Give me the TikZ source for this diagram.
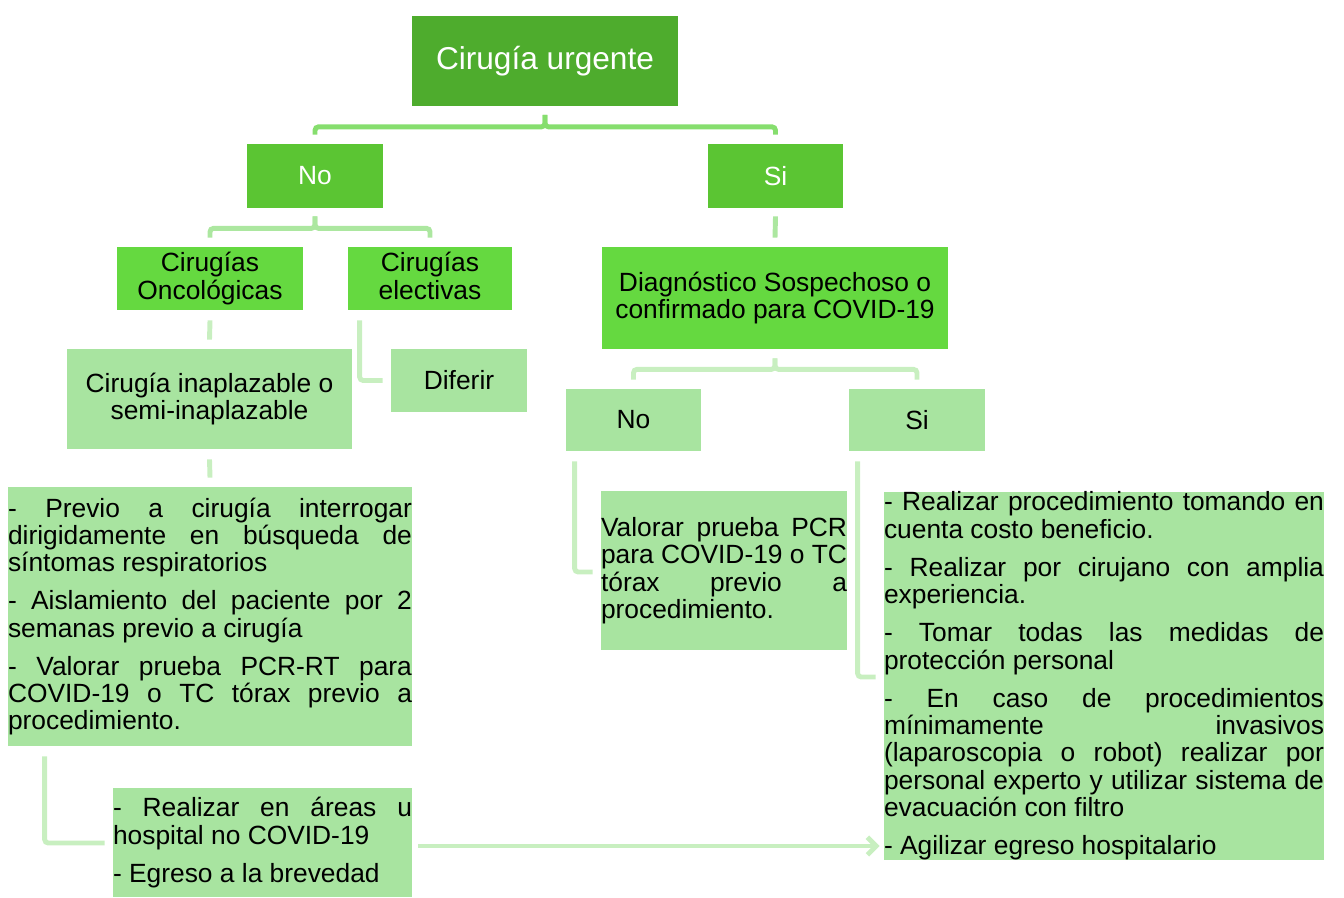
\documentclass[tikz,border=0pt]{standalone}
\usepackage{fontspec}
\setmainfont{Liberation Sans}
\usepackage{xcolor}
\usepackage{tikz}
\usetikzlibrary{positioning,calc,arrows.meta}
\definecolor{titlegreen}{RGB}{78,172,45}
\definecolor{midgreen}{RGB}{91,197,51}
\definecolor{brightgreen}{RGB}{101,217,64}
\definecolor{palegreen}{RGB}{168,228,160}
\definecolor{linkdark}{RGB}{134,222,110}
\definecolor{linkmid}{RGB}{172,231,160}
\definecolor{linkpale}{RGB}{200,239,192}

\begin{document}
\begin{tikzpicture}[x=0.02cm, y=-0.02cm,
    titlebox/.style={fill=titlegreen, text=white, inner sep=0pt, font=\fontsize{18}{21}\selectfont},
    answerbox/.style={fill=midgreen, text=white, inner sep=0pt, font=\fontsize{15}{15.6}\selectfont},
    groupbox/.style={fill=brightgreen, inner sep=0pt, align=center, font=\fontsize{15}{15.6}\selectfont},
    stepbox/.style={fill=palegreen, inner sep=0pt, align=center, font=\fontsize{15}{15.6}\selectfont},
    listbox/.style={fill=palegreen, inner sep=0pt, align=justify, font=\fontsize{15}{15.6}\selectfont,
        execute at begin node={\parindent=0pt\parskip=6pt\tolerance=10000\hyphenpenalty=10000\exhyphenpenalty=10000}},
    linkA/.style={line width=2.8pt, linkdark, rounded corners=2pt},
    linkB/.style={line width=2.8pt, linkmid, rounded corners=2pt},
    linkC/.style={line width=2.8pt, linkpale, rounded corners=2pt}]
			\useasboundingbox (0,0) rectangle (1344,898);
			\node[titlebox, minimum width=5.32cm, minimum height=1.82cm] (urgent) at (545,61) {Cirugía urgente};
			\node[answerbox, minimum width=2.72cm, minimum height=1.28cm] (no) at (315,176) {No};
			\node[answerbox, minimum width=2.7cm, minimum height=1.28cm] (si) at (775.5,176) {Si};
			\node[groupbox, minimum width=3.72cm, minimum height=1.26cm] (onco) at (210,278.5) {Cirugías\\Oncológicas};
			\node[groupbox, minimum width=3.28cm, minimum height=1.26cm] (elect) at (430,278.5) {Cirugías\\electivas\vphantom{g}};
			\node[groupbox, minimum width=6.92cm, minimum height=2.04cm] (diag) at (775,298) {Diagnóstico Sospechoso o\\confirmado para COVID-19};
			\node[stepbox, minimum width=5.7cm, minimum height=2cm] (inapl) at (209.5,399) {Cirugía inaplazable o\\semi-inaplazable};
			\node[stepbox, minimum width=2.72cm, minimum height=1.26cm] (diferir) at (459,380.5) {Diferir};
			\node[stepbox, minimum width=2.7cm, minimum height=1.24cm] (covno) at (633.5,420) {No};
			\node[stepbox, minimum width=2.72cm, minimum height=1.24cm] (covsi) at (917,420) {Si};
			\node[listbox, text width=8.08cm, minimum height=5.18cm] (previo) at (210,616.5) {- Previo a cirugía interrogar\linebreak dirigidamente en búsqueda de\linebreak síntomas respiratorios\par
				- Aislamiento del paciente por 2\linebreak semanas previo a cirugía\par
				- Valorar prueba PCR-RT para\linebreak COVID-19 o TC tórax previo a\linebreak procedimiento.};
			\node[listbox, text width=4.92cm, minimum height=3.18cm] (pcr) at (724,570.5) {Valorar prueba PCR\linebreak para COVID-19 o TC\linebreak tórax previo a\linebreak procedimiento.};
			\node[listbox, text width=8.8cm, minimum height=7.36cm] (medidas) at (1104,676) {- Realizar procedimiento tomando en\linebreak cuenta costo beneficio.\par
				- Realizar por cirujano con amplia\linebreak experiencia.\par
				- Tomar todas las medidas de\linebreak protección personal\par
				- En caso de procedimientos\linebreak mínimamente invasivos\linebreak (laparoscopia o robot) realizar por\linebreak personal experto y utilizar sistema de\linebreak evacuación con filtro\par
				- Agilizar egreso hospitalario};
			\node[listbox, text width=5.98cm, minimum height=2.2cm] (areas) at (262.5,842.5) {- Realizar en áreas u\linebreak hospital no COVID-19\par
				- Egreso a la brevedad};
			\draw[linkA] ($(urgent.south)+(0,8)$) -- ++(0,12) -| ($(no.north)+(0,-9)$);
			\draw[linkA] ($(urgent.south)+(0,8)$) -- ++(0,12) -| ($(si.north)+(0,-9)$);
			\draw[linkB] ($(no.south)+(0,8)$) -- ++(0,12) -| ($(onco.north)+(0,-9)$);
			\draw[linkB] ($(no.south)+(0,8)$) -- ++(0,12) -| ($(elect.north)+(0,-9)$);
			\draw[linkB] ($(si.south)+(0,8)$) -- ($(diag.north)+(0,-9)$);
			\draw[linkC] ($(onco.south)+(0,10)$) -- ($(inapl.north)+(0,-9)$);
			\draw[linkC] ($(elect.south west)+(12,10)$) |- ($(diferir.west)+(-8,0)$);
			\draw[linkC] ($(diag.south)+(0,9)$) -- ++(0,11) -| ($(covno.north)+(0,-9)$);
			\draw[linkC] ($(diag.south)+(0,9)$) -- ++(0,11) -| ($(covsi.north)+(0,-9)$);
			\draw[linkC] ($(inapl.south)+(0,10)$) -- ($(previo.north)+(0,-9)$);
			\draw[linkC] ($(covno.south west)+(9,10)$) |- ($(pcr.west)+(-8,1.5)$);
			\draw[linkC] ($(covsi.south west)+(9,10)$) |- ($(medidas.west)+(-8,1)$);
			\draw[linkC] ($(previo.south west)+(37,10)$) |- ($(areas.west)+(-8,0.5)$);
			\draw[linkC, -{Straight Barb[length=5pt, width=10pt]}] ($(areas.east)+(6,3.5)$) -- ($(medidas.west |- areas.east)+(-4,3.5)$);
		\end{tikzpicture}
\end{document}
